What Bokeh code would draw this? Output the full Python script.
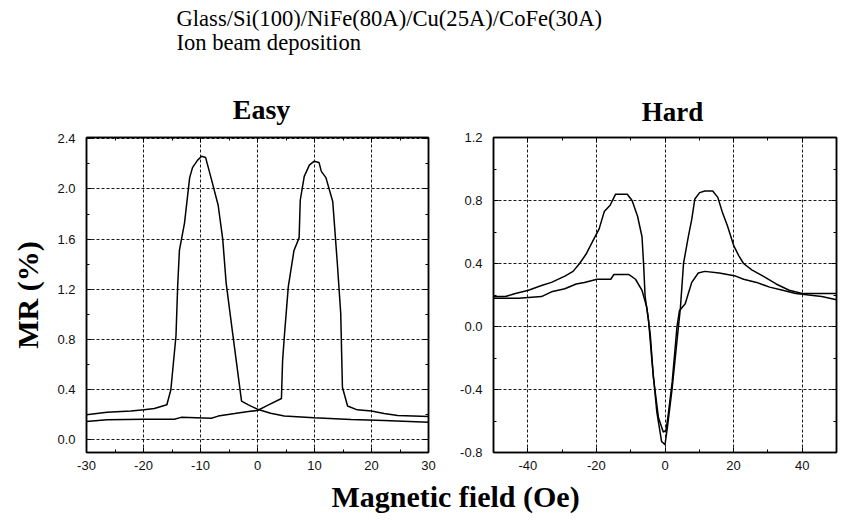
from bokeh.plotting import figure
from bokeh.models import Range1d, LinearAxis, Label, PrintfTickFormatter, FixedTicker
from bokeh.layouts import column, row
from bokeh.embed import file_html
from bokeh.resources import INLINE

SERIF = "Liberation Serif"
SANS = "Liberation Sans"

# ---------------- data ----------------
title_lines = ["Glass/Si(100)/NiFe(80A)/Cu(25A)/CoFe(30A)", "Ion beam deposition"]
panel_titles = ["Easy", "Hard"]
y_label = "MR (%)"
x_label = "Magnetic field (Oe)"

easy_xticks = [-30, -20, -10, 0, 10, 20, 30]
easy_xminor = [-25, -15, -5, 5, 15, 25]
easy_yticks = [0.0, 0.4, 0.8, 1.2, 1.6, 2.0, 2.4]
easy_yminor = [0.2, 0.6, 1.0, 1.4, 1.8, 2.2]
hard_xticks = [-40, -20, 0, 20, 40]
hard_xminor = [-50, -30, -10, 10, 30, 50]
hard_yticks = [-0.8, -0.4, 0.0, 0.4, 0.8, 1.2]
hard_yminor = [-0.6, -0.2, 0.2, 0.6, 1.0]

easy_a_x = [-30, -26.4, -22.2, -19.9, -18.1, -15.9, -15.2, -14.3, -14.0, -13.7, -12.8, -11.9,
            -11.4, -10.5, -9.8, -9.1, -8.1, -6.9, -6.1, -5.5, -4.3, -2.8, -1.6, 0, 2.3, 4.7,
            9.9, 16.4, 22.2, 30]
easy_a_y = [0.20, 0.22, 0.23, 0.24, 0.25, 0.28, 0.40, 0.83, 1.23, 1.51, 1.73, 2.09,
            2.17, 2.23, 2.26, 2.25, 2.08, 1.87, 1.60, 1.25, 0.83, 0.31, 0.28, 0.245, 0.213, 0.19,
            0.176, 0.163, 0.155, 0.141]

easy_b_x = [-30, -26.4, -19.9, -14.6, -13.4, -8.1, -6.9, -4.0, -1.6, 0, 1.5, 4.2, 4.4, 4.7,
            5.4, 6.4, 7.3, 7.5, 8.2, 9.1, 9.9, 10.8, 11.2, 12.0, 13.2, 14.0, 14.6, 14.9, 15.8,
            17.5, 20.0, 22.2, 24.6, 30]
easy_b_y = [0.147, 0.16, 0.165, 0.165, 0.18, 0.173, 0.19, 0.21, 0.227, 0.235, 0.27, 0.33, 0.63,
            0.82, 1.22, 1.51, 1.61, 1.91, 2.10, 2.19, 2.22, 2.21, 2.14, 2.09, 1.90, 1.41, 1.01,
            0.42, 0.27, 0.24, 0.23, 0.21, 0.195, 0.187]

hard_c_x = [-50, -46.5, -43.6, -39.8, -36.0, -33.1, -29.2, -26.8, -24.9, -23.0, -21.1, -19.2,
            -17.7, -16.0, -14.4, -12.9, -11.0, -9.6, -8.0, -6.7, -6.2, -5.8, -4.8, -3.8, -2.4,
            -1.0, 0, 0.7, 2.1, 3.5, 4.5, 5.4, 6.8, 7.8, 8.7, 10.1, 11.6, 13.9, 15.4, 16.8, 18.2,
            20.1, 21.5, 22.9, 25.3, 28.6, 32.4, 36.2, 40.0, 43.8, 50]
hard_c_y = [0.19, 0.19, 0.21, 0.23, 0.26, 0.28, 0.32, 0.35, 0.40, 0.46, 0.54, 0.62,
            0.73, 0.77, 0.84, 0.84, 0.84, 0.80, 0.70, 0.57, 0.38, 0.19, 0.04, -0.22, -0.54,
            -0.73, -0.75, -0.64, -0.39, -0.09, 0.12, 0.40, 0.57, 0.68, 0.81, 0.85, 0.86, 0.86,
            0.82, 0.72, 0.64, 0.51, 0.45, 0.40, 0.36, 0.32, 0.27, 0.23, 0.21, 0.21, 0.21]

hard_d_x = [-50, -42.7, -36, -33.1, -29.2, -25.9, -23.5, -19.8, -15.8, -14.9, -10.5, -8.6,
            -6.7, -5.3, -4.3, -3.4, -1.9, -0.5, 0.3, 1.0, 2.1, 3.5, 4.2, 5.9, 6.8, 7.8, 9.7,
            11.6, 15.8, 18.2, 20.6, 22.9, 26.7, 30.5, 34.3, 38.1, 41.9, 45.7, 50]
hard_d_y = [0.18, 0.18, 0.19, 0.22, 0.24, 0.27, 0.28, 0.30, 0.30, 0.33, 0.33, 0.30,
            0.23, 0.12, -0.05, -0.32, -0.58, -0.67, -0.66, -0.55, -0.35, 0.0, 0.10, 0.145,
            0.21, 0.28, 0.34, 0.35, 0.34, 0.33, 0.32, 0.30, 0.28, 0.25, 0.23, 0.21, 0.20,
            0.19, 0.17]


def style_axis(ax, ticks, minor, labels=True, fmt=None):
    ax.ticker = FixedTicker(ticks=ticks, minor_ticks=minor)
    ax.axis_line_color = "black"
    ax.axis_line_width = 1.5
    ax.major_tick_in = 5
    ax.major_tick_out = 0
    ax.minor_tick_in = 3
    ax.minor_tick_out = 0
    ax.major_tick_line_color = "black"
    ax.minor_tick_line_color = "black"
    if labels:
        ax.major_label_text_font = SANS
        ax.major_label_text_font_size = "13px"
        ax.major_label_text_color = "#111111"
        ax.major_label_standoff = 11
        if fmt:
            ax.formatter = PrintfTickFormatter(format=fmt)
    else:
        ax.major_label_overrides = {t: "" for t in ticks}
        ax.major_label_text_font_size = "1px"
        ax.major_label_standoff = 0


def panel(width, xr, yr, xt, xm, yt, ym, mbl, mbr, mbt, ylab=None):
    p = figure(width=width, height=345, x_range=Range1d(*xr), y_range=Range1d(*yr),
               output_backend="svg", toolbar_location=None,
               min_border_left=mbl, min_border_right=mbr, min_border_top=mbt,
               min_border_bottom=20, background_fill_color="white",
               border_fill_color="white", outline_line_color="black", outline_line_width=1.5)
    style_axis(p.xaxis[0], xt, xm, True, "%d")
    style_axis(p.yaxis[0], yt, ym, True, "%.1f")
    p.xaxis[0].major_label_standoff = 8
    top_ax = LinearAxis()
    right_ax = LinearAxis()
    style_axis(top_ax, xt, xm, False)
    style_axis(right_ax, yt, ym, False)
    p.add_layout(top_ax, "above")
    p.add_layout(right_ax, "right")
    if ylab:
        p.yaxis[0].axis_label = ylab
        p.yaxis[0].axis_label_text_font = SERIF
        p.yaxis[0].axis_label_text_font_size = "30px"
        p.yaxis[0].axis_label_text_font_style = "bold"
        p.yaxis[0].axis_label_text_color = "black"
        p.yaxis[0].axis_label_standoff = 10
    for g in (p.xgrid[0], p.ygrid[0]):
        g.grid_line_color = "black"
        g.grid_line_dash = "3 2"
        g.grid_line_width = 1
        g.grid_line_alpha = 0.9
    return p


left = panel(448, (-30, 30), (-0.1, 2.41), easy_xticks, easy_xminor, easy_yticks, easy_yminor,
             86, 20, 10, ylab=y_label)
left.line(easy_a_x, easy_a_y, line_color="black", line_width=1.5)
left.line(easy_b_x, easy_b_y, line_color="black", line_width=1.5)

right = panel(390, (-50, 50), (-0.8, 1.2), hard_xticks, hard_xminor, hard_yticks, hard_yminor,
              45, 2, 8)
right.line(hard_c_x, hard_c_y, line_color="black", line_width=1.5)
right.line(hard_d_x, hard_d_y, line_color="black", line_width=1.5)


def text_fig(w, h):
    f = figure(width=w, height=h, x_range=Range1d(0, w), y_range=Range1d(0, h),
               x_axis_type=None, y_axis_type=None, output_backend="svg",
               toolbar_location=None, min_border=0, outline_line_color=None)
    f.grid.visible = False
    return f


top = text_fig(838, 127)
top.add_layout(Label(x=176, y=109, text=title_lines[0], text_font=SERIF, text_font_size="22.6px",
                     text_baseline="middle", text_align="left", text_color="black"))
top.add_layout(Label(x=176, y=85, text=title_lines[1], text_font=SERIF, text_font_size="22.6px",
                     text_baseline="middle", text_align="left", text_color="black"))
top.add_layout(Label(x=261, y=18, text=panel_titles[0], text_font=SERIF, text_font_size="28px",
                     text_font_style="bold", text_baseline="middle", text_align="center",
                     text_color="black"))
top.add_layout(Label(x=672, y=16, text=panel_titles[1], text_font=SERIF, text_font_size="27px",
                     text_font_style="bold", text_baseline="middle", text_align="center",
                     text_color="black"))

bottom = text_fig(838, 42)
bottom.add_layout(Label(x=455, y=18, text=x_label, text_font=SERIF, text_font_size="30px",
                        text_font_style="bold", text_baseline="middle", text_align="center",
                        text_color="black"))

layout = column(top, row(left, right), bottom)
open("out.html", "w").write(file_html(layout, INLINE))
